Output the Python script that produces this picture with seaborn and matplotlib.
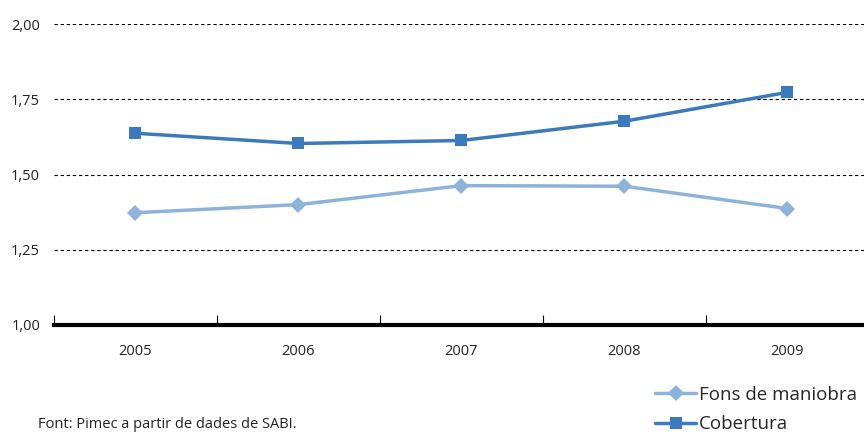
import matplotlib
matplotlib.use("Agg")
import matplotlib.pyplot as plt
import seaborn as sns
import pandas as pd

years = ["2005", "2006", "2007", "2008", "2009"]
fons_maniobra = [1.373, 1.400, 1.463, 1.461, 1.387]
cobertura = [1.637, 1.603, 1.613, 1.677, 1.773]
y_ticks = [1.00, 1.25, 1.50, 1.75, 2.00]
y_labels = ["1,00", "1,25", "1,50", "1,75", "2,00"]
series_names = ["Fons de maniobra", "Cobertura"]
source = "Font: Pimec a partir de dades de SABI."

sns.set_theme(style="white")
plt.rcParams['font.family'] = ['Open Sans', 'DejaVu Sans']

df = pd.DataFrame({
    "year": years * 2,
    "value": fons_maniobra + cobertura,
    "series": [series_names[0]] * len(years) + [series_names[1]] * len(years),
})

fig = plt.figure(figsize=(8.64, 4.37), dpi=100)
ax = fig.add_axes([54 / 864, 1 - 325 / 437, 1 - 54 / 864, 301 / 437])

palette = {series_names[0]: "#8db3da", series_names[1]: "#3a7abd"}
markers = {series_names[0]: "D", series_names[1]: "s"}
sns.lineplot(data=df, x="year", y="value", hue="series", style="series",
             palette=palette, markers=markers, dashes=False, linewidth=2.5,
             markersize=8, markeredgewidth=0, ax=ax, sort=False, legend=True)

ax.set_ylim(1.0, 2.0)
ax.set_xlim(-0.5, 4.47)
ax.set_yticks(y_ticks)
ax.set_yticklabels(y_labels)
ax.set_xlabel("")
ax.set_ylabel("")
for y in y_ticks[1:]:
    ax.axhline(y, color="black", linestyle=(0, (3, 2.5)), linewidth=0.8, zorder=0)

for s in ["top", "right", "left"]:
    ax.spines[s].set_visible(False)
ax.spines["bottom"].set_linewidth(3)
ax.spines["bottom"].set_color("black")
ax.spines["bottom"].set_zorder(5)

ax.tick_params(axis="y", length=0, labelsize=10.5, pad=10, labelcolor="#222222")
ax.tick_params(axis="x", length=0, labelsize=10.5, pad=14, labelcolor="#222222")
ax.set_xticks([-0.5, 0.5, 1.5, 2.5, 3.5], minor=True)
ax.tick_params(axis="x", which="minor", direction="in", length=7, width=0.8, color="black", bottom=True)

handles, labels = ax.get_legend_handles_labels()
ax.get_legend().remove()
fig.legend(handles, labels, loc="upper left", bbox_to_anchor=(655 / 864, 1 - 386 / 437),
           frameon=False, fontsize=13.5, handlelength=2.2, handletextpad=0.15,
           labelspacing=0.6, borderaxespad=0, borderpad=0)

fig.text(38 / 864, 1 - 425 / 437, source, fontsize=10.5, color="#222222", va="center", ha="left")

fig.savefig("out.png", dpi=100)
